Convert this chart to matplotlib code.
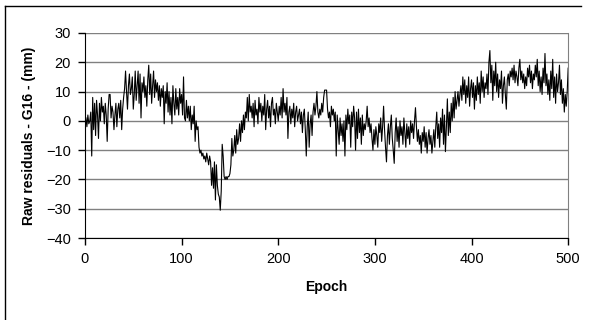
import numpy as np
import matplotlib.pyplot as plt
from matplotlib.lines import Line2D

# =========================================================
# Data (epochs 1..500)
# =========================================================
residuals_mm = [
    # 1-40
    1, -2, 2, -1, 0, 3, -12, 8, -3, 6, -5, 7, 2, -6, 6, 0, 8, 3, 5, -1,
    6, 2, -7, 4, 9, 9, 1, 5, 3, -3, 2, 6, -2, 4, 6, 1, 7, -3, 4, 8,
    # 41-80
    11, 17, 10, 4, 12, 16, 9, 11, 15, 4, 9, 17, 7, 12, 17, 6, 16, 1, 13, 10,
    15, 8, 12, 5, 14, 19, 9, 16, 6, 12, 17, 8, 14, 10, 13, 7, 12, 5, 11, 8,
    # 81-120
    12, -1, 10, 6, 13, 3, 10, 2, 8, -1, 12, 6, 2, 11, 4, 8, 2, 11, 6, 9,
    2, 15, 1, 0, 7, 1, 5, 0, 5, -3, 2, -1, 5, -7, 0, -3, -2, -9, -11, -10,
    # 121-160
    -12, -11, -13, -12, -14, -11, -13, -15, -12, -14, -22, -16, -23, -14, -27, -15, -22, -25, -26, -30.5,
    -24, -8, -12, -19, -20, -19, -20, -19, -19, -18, -15, -6, -12, -10, -5, -11, -3, -8, -6, -1,
    # 161-200
    -7, 0, -4, 2, -3, 3, 1, 8, 0, 9, 3, 5, 1, 6, -2, 7, 2, 4, -1, 8,
    3, 6, 0, 5, 2, 9, -3, 4, 7, 1, 5, -2, 6, 8, 2, 4, -1, 6, 3, 0,
    # 201-240
    5, 2, 8, 1, 11, 3, 6, 2, 8, -6, 3, 5, -1, 4, 1, 6, -2, 3, 5, 0,
    2, 4, -1, 3, -4, 2, 4, -3, -12, -2, 3, -9, -1, 2, -5, 3, 6, 2, 5, 10,
    # 241-280
    3, 1, 4, 2, 6, 3, 8, 10.5, 10.5, 10.5, 4, 1, 3, -2, 5, 2, 4, 0, 3, -12,
    2, -3, -8, 1, -5, -1, -7, 0, -12, 2, -3, 4, -1, 2, -9, 3, -2, 5, 1, -10,
    # 281-320
    3, -6, 4, -4, 1, -8, 2, -5, -1, -3, 0, 5, -2, 1, -4, -1, -6, -10, -3, -8,
    -2, -5, -9, -1, -4, 1, -7, -2, 5, -3, -9, -14, -5, -1, -8, -2, 2, -6, -10, -14.5,
    # 321-360
    -4, 1, -7, -2, -9, 0, -5, -2, -8, 1, -4, -9, -1, -6, -2, -8, 0, -4, -1, -6,
    0, 4.5, -2, -7, -3, -8, -5, -11, -4, -7, -2, -9, -4, -11, -6, -3, -8, -5, -11, -7,
    # 361-400
    -3, -9, -2, 3, -6, -1, -9, 1, -4, 4, -8, 2, -10.5, -2, 7.5, -5, 3, -4, 6, 0,
    8, 1, 10, 4, 7, 10, 5, 9, 12, 7, 15, 9, 14, 6, 12, 8, 15, 5, 11, 14,
    # 401-440
    8, 13, 4, 12, 7, 15, 9, 13, 6, 17, 10, 15, 8, 13, 11, 16, 9, 20, 24, 13,
    19, 7, 17, 12, 20, 10, 16, 8, 14, 11, 17, 6, 12, 15, 9, 4, 14, 16, 12, 17,
    # 441-480
    15, 18, 14, 19, 13, 17, 15, 12, 18, 21, 14, 17, 13, 16, 11, 15, 12, 18, 15, 19,
    13, 17, 11, 16, 14, 19, 15, 21, 12, 17, 10, 15, 9, 18, 13, 23, 12, 16, 9, 14,
    # 481-500
    7, 17, 11, 21, 8, 15, 6, 16, 10, 13, 19, 9, 14, 6, 11, 3, 9, 5, 10, 18,
]
epochs = np.arange(1, len(residuals_mm) + 1)

x_ticks = [0, 100, 200, 300, 400, 500]
y_ticks = [-40, -30, -20, -10, 0, 10, 20, 30]

plt.rcParams["font.family"] = ["Liberation Sans", "DejaVu Sans"]

# =========================================================
# Figure
# =========================================================
fig = plt.figure(figsize=(5.9, 3.2), dpi=100)
ax = fig.add_axes([0.144, 0.256, 0.819, 0.641])

ax.plot(epochs, residuals_mm, color="black", linewidth=0.8, zorder=3)

ax.set_xlim(0, 500)
ax.set_ylim(-40, 30)
ax.set_xticks(x_ticks)
ax.set_yticks(y_ticks)

# Excel-like gridlines and spines
ax.grid(True, axis="y", color="#808080", linewidth=1.0, zorder=1)
ax.spines["top"].set_visible(False)
ax.spines["right"].set_color("#808080")
ax.spines["left"].set_color("black")
ax.spines["bottom"].set_color("black")
ax.tick_params(direction="out", length=5, width=1.0, labelsize=10.5, pad=5)

ax.set_xlabel("Epoch", fontsize=10, fontweight="bold", labelpad=10)
ax.set_ylabel("Raw residuals - G16 - (mm)", fontsize=10, fontweight="bold", labelpad=7)

# Outer frame (only top and left edges show in the crop)
fig.add_artist(Line2D([0.009, 0.985], [0.981, 0.981], transform=fig.transFigure,
                      color="black", linewidth=1.0))
fig.add_artist(Line2D([0.009, 0.009], [0.0, 0.981], transform=fig.transFigure,
                      color="black", linewidth=1.0))

fig.savefig("out.png", dpi=100)
